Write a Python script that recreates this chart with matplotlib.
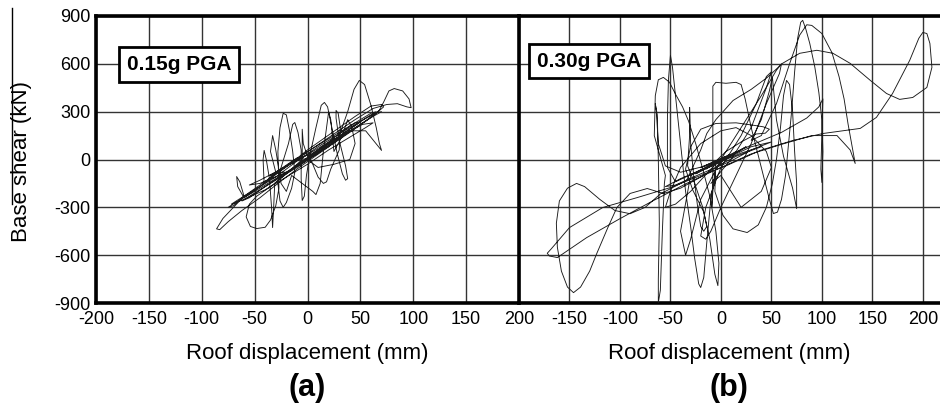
import numpy as np
import matplotlib.pyplot as plt
from matplotlib.lines import Line2D

plt.rcParams['font.family'] = ['Liberation Sans', 'DejaVu Sans']
plt.rcParams['axes.unicode_minus'] = False

# roof displacement (mm), base shear (kN) along the response history, 0.15g record
pga_015 = [
    (0, 0), (6, 30), (-4, -20), (10, 50), (-8, -40), (14, 60), (-12, -50), (5, 20),
    (20, 80), (40, 170), (55, 240), (65, 290), (72, 330), (70, 345), (60, 335), (45, 270),
    (30, 200), (15, 130), (0, 60), (-15, -20), (-30, -90), (-45, -160), (-60, -230),
    (-70, -290), (-75, -300), (-68, -270), (-50, -200), (-30, -120), (-10, -40), (10, 40),
    (30, 130), (50, 220), (63, 280), (68, 310),
    (72, 360), (77, 430), (82, 445), (90, 430), (96, 380), (98, 325), (94, 330), (85, 350),
    (75, 345), (62, 320), (45, 250), (25, 160), (5, 70), (-10, 0), (-25, -70),
    (-45, -170), (-60, -240), (-66, -170), (-67, -107), (-64, -140), (-60, -230), (-70, -300),
    (-80, -370), (-86, -435), (-83, -440), (-75, -390), (-62, -320), (-45, -240), (-28, -150),
    (-10, -60), (5, 10),
    (20, 80), (30, 150), (38, 300), (44, 440), (49, 496), (54, 470), (60, 340), (65, 200),
    (68, 100), (70, 57), (66, 90), (55, 180), (40, 180),
    (25, 120), (10, 60), (-5, -10), (-20, -90), (-35, -170), (-48, -230),
    (-55, -280), (-58, -360), (-54, -420), (-48, -433), (-40, -425), (-35, -380), (-30, -290),
    (-27, -180), (-28, 50), (-26, 200), (-23, 290), (-20, 280), (-17, 180), (-14, 50), (-12, -80),
    (-15, -180), (-20, -270), (-23, -300), (-26, -260), (-28, -150), (-25, -50),
    (-18, 100), (-14, 220), (-12, 232), (-9, 170), (-6, 60),
    (-6, -120), (-5, -257), (-3, -230), (-1, -100), (2, 20),
    (8, 200), (13, 340), (16, 358), (19, 330), (23, 200), (28, 40), (33, -90), (36, -130),
    (38, -120), (36, -40),
    (30, 120), (27, 260), (27, 308), (29, 290), (31, 200), (30, 60),
    (22, -60), (18, -140), (15, -150), (10, -110), (5, -30), (0, 30),
    (-20, -40), (-35, -110), (-41, -150), (-42, 0), (-41, 57), (-39, 0), (-36, -120),
    (-34, -300), (-33, -427), (-32, -300), (-31, -150),
    (-15, -60), (-5, 0), (-5, 190), (-4, 100), (0, 20),
    (20, 100), (40, 190), (55, 260), (65, 300), (60, 290), (40, 210), (20, 110), (0, 10),
    (-20, -80), (-40, -170), (-55, -240), (-62, -260), (-50, -210), (-30, -130), (-10, -50),
    (10, 50), (35, 170), (50, 235), (45, 230), (25, 150), (0, 50), (-20, -40), (-35, -100),
    (-30, -80), (-10, 10), (0, 0),
    (20, 90), (45, 200), (62, 270), (70, 300), (66, 295), (50, 240), (30, 160), (10, 80),
    (-10, -10), (-30, -110), (-50, -190), (-65, -250), (-72, -280), (-60, -250), (-40, -190),
    (-20, -110), (0, -30), (20, 60), (40, 140), (55, 200), (62, 230), (52, 220), (35, 160),
    (15, 90), (-5, 10), (-25, -60), (-45, -130), (-55, -160), (-45, -150), (-20, -80),
    (-30, -80), (-35, 50), (-33, 150), (-30, 60), (-25, -150), (-20, -200), (-15, -100),
    (5, -200), (8, -220), (12, -150), (15, 50), (20, 300), (22, 250), (25, 50), (33, 150),
    (38, 250), (42, 200), (45, 100), (40, 0), (25, -30), (10, -50), (0, 0),
]

# same quantities, 0.30g record
pga_030 = [
    (0, 0), (8, 30), (-12, -50), (15, 50), (-20, -70), (20, 60), (-25, -90), (25, 80),
    (-15, -60), (10, 30), (-20, -50), (5, 20),
    (-5, -50), (-8, -200), (-9, -300), (-8, -100), (-8, 200), (-8, 460), (-5, 484), (5, 478),
    (15, 484), (20, 470), (24, 380), (30, 200), (36, 50), (42, -100), (48, -250), (52, -339),
    (56, -330), (60, -250), (64, -100), (67, 100), (70, 300), (73, 550), (76, 760), (79, 860),
    (81, 873), (84, 820), (88, 728), (93, 580), (97, 420), (100, 250), (101, 50), (100, -144),
    (99, -60), (100, 150), (101, 380), (97, 330), (85, 260),
    (60, 170), (30, 90), (0, 0), (-25, -80), (-45, -140),
    (-53, -50), (-53, 250), (-52, 500), (-50, 653), (-48, 580), (-45, 400), (-40, 100),
    (-35, -200), (-30, -420), (-26, -620), (-22, -780), (-20, -803), (-17, -740), (-14, -520),
    (-10, -250), (-5, -60), (5, 20),
    (-15, -40), (-40, -80), (-55, -40), (-62, 100), (-64, 300), (-65, 350), (-63, 280),
    (-62, 0), (-61, -400), (-62, -750), (-62, -898), (-60, -820), (-58, -450), (-56, -150),
    (-55, -100),
    (-66, 150), (-65, 400), (-62, 500), (-57, 515), (-51, 485), (-45, 410), (-38, 330),
    (-32, 240), (-25, 100), (-18, -60), (-11, -230), (-5, -450), (-2, -650), (-3, -791),
    (-6, -720), (-11, -500), (-18, -300), (-26, -150), (-33, -40),
    (-31, 150), (-31, 327), (-30, 100), (-27, -100), (-23, -300), (-20, -420), (-17, -450),
    (-14, -420), (-17, -330), (-28, -190),
    (-35, -60), (-30, 80), (-20, 190), (-5, 226), (15, 230), (32, 215), (42, 205), (48, 190),
    (44, 165), (35, 160), (20, 110), (5, 50), (-5, -10),
    (-6, -200), (2, -350), (12, -435), (26, -458), (37, -410), (45, -300), (51, -150),
    (55, 0), (59, 200), (62, 400), (65, 496), (68, 470), (71, 300), (73, 50), (75, -150),
    (75, -308), (71, -180), (62, 20), (55, 250), (52, 450), (51, 515), (48, 430), (40, 250),
    (30, 120),
    (40, 150), (55, 350), (68, 600), (78, 780), (85, 845), (90, 841), (100, 790), (110, 670),
    (117, 520), (122, 380), (126, 220), (130, 80), (133, -25), (128, 60), (115, 150),
    (90, 150), (60, 95), (30, 35), (0, -50), (-34, -150), (-67, -258), (-100, -371),
    (-133, -490), (-162, -615), (-170, -605), (-172, -588), (-168, -560), (-150, -427),
    (-117, -301), (-83, -239), (-50, -176), (-20, -100),
    (5, -40), (39, 57), (71, 119), (101, 163), (138, 195), (154, 264), (170, 414), (187, 622),
    (196, 760), (200, 797), (204, 790), (207, 728), (209, 578), (204, 452), (190, 389),
    (177, 377), (164, 414), (148, 496), (128, 603), (111, 666), (95, 685), (78, 666),
    (61, 603), (46, 515), (30, 440), (12, 370), (-5, 250), (-14, 163), (-20, 60),
    (-34, -131), (-60, -216), (-75, -300), (-90, -340), (-105, -320), (-120, -250),
    (-135, -170), (-143, -150), (-152, -180), (-160, -260), (-163, -400), (-162, -550),
    (-158, -700), (-152, -800), (-146, -835), (-139, -800), (-130, -700), (-123, -590),
    (-112, -427), (-103, -301), (-90, -213), (-73, -182), (-57, -213), (-40, -180),
    (-20, -110), (0, -30), (15, 20),
    (40, 80), (20, 40), (-10, -40), (-40, -120), (-55, -170), (-45, -160), (-20, -90),
    (10, -10), (30, 60), (50, 110), (30, 80), (0, -10), (-30, -100),
    (-40, -450), (-35, -600), (-30, -500), (-20, -250), (0, 0), (20, 200), (40, 400),
    (55, 560), (60, 600), (58, 540), (45, 350), (30, 100), (15, -100), (0, -300),
    (-10, -450), (-15, -500), (-20, -480), (-15, -300), (0, -50), (20, 150), (35, 350),
    (45, 520), (50, 550), (45, 450), (30, 200), (10, 0), (-10, -150),
    (0, -100), (20, -300), (40, -200), (50, -50), (45, 50), (30, 150), (15, 200), (0, 180),
    (-20, 100), (-40, -50), (-50, -200), (-55, -300), (-45, -280), (-30, -200), (-10, -60),
    (0, 0),
]

shear_ticks = [-900, -600, -300, 0, 300, 600, 900]
disp_ticks = [-200, -150, -100, -50, 0, 50, 100, 150, 200]
panel_tags = ['0.15g PGA', '0.30g PGA']
panel_letters = ['(a)', '(b)']

W, H = 940, 403
fig = plt.figure(figsize=(W / 100, H / 100), dpi=100)
ax1 = fig.add_axes([96 / W, 100 / H, 423 / W, 287 / H])
ax2 = fig.add_axes([519 / W, 100 / H, 421 / W, 287 / H])

for ax, pts, xmax in [(ax1, pga_015, 200), (ax2, pga_030, 217)]:
    d = np.array(pts, dtype=float)
    ax.plot(d[:, 0], d[:, 1], color='#1a1a1a', lw=0.65, zorder=3)
    ax.set_xlim(-200, xmax)
    ax.set_ylim(-900, 900)
    ax.set_xticks(disp_ticks)
    ax.set_yticks(shear_ticks)
    ax.grid(True, color='#333333', lw=1.0)
    ax.set_axisbelow(True)
    ax.tick_params(length=0, labelsize=13)
    ax.tick_params(axis='x', pad=6)
    ax.tick_params(axis='y', pad=4)
    for side in ['left', 'top', 'bottom']:
        ax.spines[side].set_linewidth(2.6)
    ax.spines['right'].set_visible(False)

ax2.set_yticklabels([])
ax2.set_xticklabels(['' if t == -200 else str(t) for t in disp_ticks])

box = dict(boxstyle='square,pad=0.38', facecolor='white', edgecolor='black', lw=2)
ax1.text(0.197, 0.831, panel_tags[0], transform=ax1.transAxes, ha='center', va='center',
         fontsize=15, fontweight='bold', bbox=box, zorder=5)
ax2.text(0.167, 0.843, panel_tags[1], transform=ax2.transAxes, ha='center', va='center',
         fontsize=15, fontweight='bold', bbox=box, zorder=5)

for xc, letter in zip([307, 729], panel_letters):
    fig.text(xc / W, 1 - 353 / H, 'Roof displacement (mm)', fontsize=16, ha='center', va='center')
    fig.text(xc / W, 1 - 388 / H, letter, fontsize=22, fontweight='bold', ha='center', va='center')

fig.text(22 / W, 1 - 162 / H, 'Base shear (kN)', rotation=90, fontsize=16, ha='center', va='center')
fig.add_artist(Line2D([12 / W, 12 / W], [1 - 8 / H, 1 - 204 / H], color='black', lw=1.0))

fig.savefig('out.png', dpi=100)
